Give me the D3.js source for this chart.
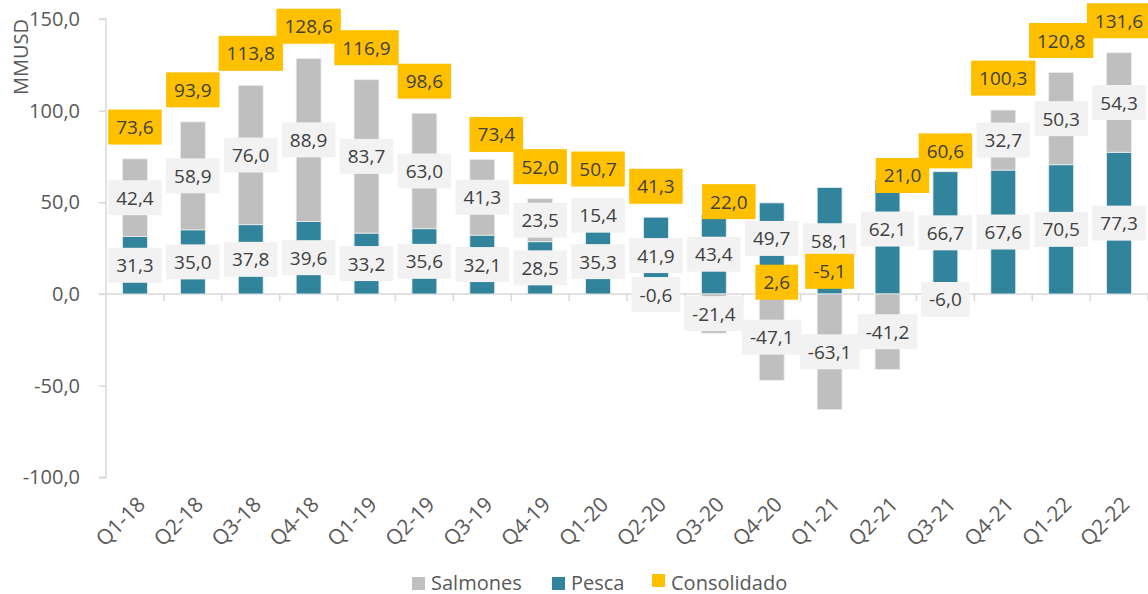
<!DOCTYPE html>
<html><head><meta charset="utf-8">
<script src="https://cdn.jsdelivr.net/npm/d3@7"></script>
<style>
html,body{margin:0;padding:0;background:#fff;}
svg{display:block;font-family:"Open Sans",sans-serif;}
</style></head>
<body>
<svg id="chart" width="1148" height="594"></svg>
<script>
const categories = ["Q1-18","Q2-18","Q3-18","Q4-18","Q1-19","Q2-19","Q3-19","Q4-19","Q1-20","Q2-20","Q3-20","Q4-20","Q1-21","Q2-21","Q3-21","Q4-21","Q1-22","Q2-22"];
const pesca = [31.3,35.0,37.8,39.6,33.2,35.6,32.1,28.5,35.3,41.9,43.4,49.7,58.1,62.1,66.7,67.6,70.5,77.3];
const salmones = [42.4,58.9,76.0,88.9,83.7,63.0,41.3,23.5,15.4,-0.6,-21.4,-47.1,-63.1,-41.2,-6.0,32.7,50.3,54.3];
const consolidado = [73.6,93.9,113.8,128.6,116.9,98.6,73.4,52.0,50.7,41.3,22.0,2.6,-5.1,21.0,60.6,100.3,120.8,131.6];
const yTicks = [-100,-50,0,50,100,150];
const seriesNames = ["Salmones","Pesca","Consolidado"];

// layout (pixels) – kept separate from data
const C = {salmones:"#BFBFBF", pesca:"#31849B", cons:"#FFC000", box:"#F2F2F2", text:"#404040", axis:"#D9D9D9", tick:"#595959"};
const consAdjust = {"Q3-19":[14,7],"Q3-20":[15,-20],"Q4-20":[5,25],"Q2-21":[15,-48]};
const pescaAdjust = {"Q4-20":-10,"Q2-21":-8};

const svg = d3.select("#chart");
const x = d3.scaleBand().domain(categories).range([106,1148]).padding(0);
const y = d3.scaleLinear().domain([-100,150]).range([477.3,19]);
const bw = x.bandwidth()*0.43;
const fmt = v => d3.format(".1f")(v).replace(".",",").replace("−","-");

// x axis line at 0 with ticks
const gx = svg.append("g");
gx.append("line").attr("x1",99).attr("x2",1148).attr("y1",y(0)).attr("y2",y(0)).attr("stroke",C.axis).attr("stroke-width",1.5);
categories.forEach((c,i)=>{
  const xx = x(c)+x.bandwidth();
  gx.append("line").attr("x1",xx).attr("x2",xx).attr("y1",y(0)).attr("y2",y(0)+7).attr("stroke",C.axis).attr("stroke-width",1.5);
});

// y axis
const yAxis = d3.axisLeft(y).tickValues(yTicks).tickSize(7).tickPadding(19).tickFormat(fmt);
const gy = svg.append("g").attr("transform","translate(106,0)").call(yAxis);
gy.select(".domain").attr("stroke",C.axis).attr("stroke-width",1.5).attr("d",`M-7,${y(150)}H0V${y(-100)}H-7`);
gy.selectAll(".tick line").attr("stroke",C.axis).attr("stroke-width",1.5);
gy.selectAll(".tick text").attr("fill",C.tick).style("font-size","20px").style("font-family","'Open Sans',sans-serif");

// bars
const gb = svg.append("g");
categories.forEach((c,i)=>{
  const cx = x(c)+x.bandwidth()/2;
  gb.append("rect").attr("x",cx-bw/2).attr("width",bw)
    .attr("y",y(pesca[i])).attr("height",y(0)-y(pesca[i]))
    .attr("fill",C.pesca).attr("stroke","#e6eef0").attr("stroke-width",0.8);
  const s0 = salmones[i]>=0 ? pesca[i] : 0;
  const s1 = s0 + salmones[i];
  gb.append("rect").attr("x",cx-bw/2).attr("width",bw)
    .attr("y",y(Math.max(s0,s1))).attr("height",Math.abs(y(s0)-y(s1)))
    .attr("fill",C.salmones).attr("stroke","#ececec").attr("stroke-width",0.8);
});

function label(g, cx, cy, txt, fill){
  const t = g.append("text").attr("x",cx).attr("y",cy).attr("text-anchor","middle")
    .attr("dominant-baseline","central").attr("fill",C.text).style("font-size","19px").text(txt);
  const w = t.node().getComputedTextLength();
  g.insert("rect","text").attr("x",cx-w/2-8).attr("y",cy-17.5).attr("width",w+16).attr("height",35).attr("fill",fill);
}

// series labels
categories.forEach((c,i)=>{
  const cx = x(c)+x.bandwidth()/2;
  const gp = svg.append("g");
  label(gp, cx, y(pesca[i]/2)+(pescaAdjust[c]||0), fmt(pesca[i]), C.box);
  const s0 = salmones[i]>=0 ? pesca[i] : 0;
  const gs = svg.append("g");
  label(gs, cx, y(s0+salmones[i]/2), fmt(salmones[i]), C.box);
});
categories.forEach((c,i)=>{
  const cx = x(c)+x.bandwidth()/2;
  const a = consAdjust[c]||[0,0];
  const g = svg.append("g");
  label(g, cx+a[0], y(consolidado[i])-32+a[1], fmt(consolidado[i]), C.cons);
});

// y title
svg.append("text").attr("transform","translate(28,57) rotate(-90)").attr("text-anchor","middle")
  .attr("fill",C.tick).style("font-size","20px").text("MMUSD");

// x labels
categories.forEach(c=>{
  const cx = x(c)+x.bandwidth()/2;
  svg.append("text").attr("transform",`translate(${cx+6},${500}) rotate(-45)`)
    .attr("text-anchor","end").attr("dominant-baseline","central").attr("fill",C.tick).style("font-size","21px").text(c);
});

// legend
const legendItems = [[seriesNames[0],C.salmones,412],[seriesNames[1],C.pesca,552],[seriesNames[2],C.cons,652]];
legendItems.forEach(([n,col,lx],k)=>{
  svg.append("rect").attr("x",lx).attr("y",k===2?574:577).attr("width",13).attr("height",13).attr("fill",col);
  svg.append("text").attr("x",lx+19).attr("y",582).attr("dominant-baseline","central").attr("fill",C.tick).style("font-size","20px").text(n);
});
</script>
</body></html>
